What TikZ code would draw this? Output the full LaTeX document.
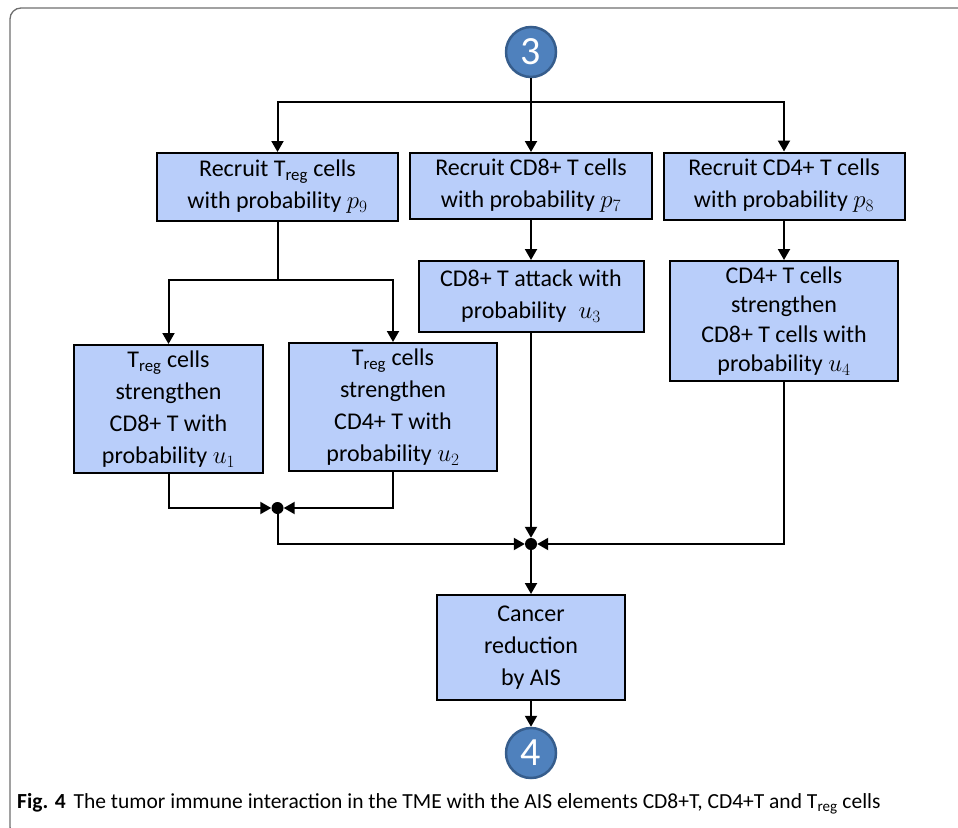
\documentclass[tikz,border=0pt]{standalone}
\usepackage{fontspec}
\setmainfont{Carlito}
\usepackage{xcolor}
\usepackage{tikz}
\usetikzlibrary{arrows.meta,positioning,calc}

\definecolor{boxblue}{RGB}{185,206,250}
\definecolor{stepblue}{RGB}{79,129,189}
\definecolor{stepedge}{RGB}{54,93,140}
\definecolor{framegray}{RGB}{110,110,110}

\begin{document}
\begin{tikzpicture}[
    x=1pt, y=-1pt,
    box/.style={rectangle, draw=black, line width=2pt, fill=boxblue, align=center, inner sep=0pt, font=\fontsize{24}{32}\selectfont},
    stepnum/.style={circle, draw=stepedge, line width=2.5pt, fill=stepblue, minimum size=50pt, inner sep=0pt, text=white, font=\fontsize{40}{40}\selectfont},
    joint/.style={circle, fill=black, minimum size=12pt, inner sep=0pt},
    arrow/.style={-{Triangle[length=11pt,width=12pt]}, line width=2pt},
    line/.style={line width=2pt}
]
\useasboundingbox (0,0) rectangle (958,827);
\clip (0,0) rectangle (958,827);

% Frame
\draw[framegray, line width=1.3pt, rounded corners=11pt] (10,8) rectangle (1000,838);

% Steps
\node[stepnum] (s3) at (531,52) {3};
\node[stepnum] (s4) at (531,753) {4};

% Boxes
\node[box, minimum width=241pt, minimum height=68pt] (rtreg) at (277.5,187) {Recruit T\textsubscript{reg} cells\\with probability $p_9$};
\node[box, minimum width=242pt, minimum height=66pt] (rcd8) at (531,186) {Recruit CD8+ T cells\\with probability $p_7$};
\node[box, minimum width=241pt, minimum height=67pt] (rcd4) at (784,186) {Recruit CD4+ T cells\\with probability $p_8$};

\node[box, minimum width=189pt, minimum height=128pt] (tcd8) at (168.5,409) {T\textsubscript{reg} cells\\strengthen\\CD8+ T with\\probability $u_1$};
\node[box, minimum width=208pt, minimum height=128pt] (tcd4) at (393,407) {T\textsubscript{reg} cells\\strengthen\\CD4+ T with\\probability $u_2$};
\node[box, minimum width=225pt, minimum height=71pt] (attack) at (531,296.5) {CD8+ T attack with\\probability\enspace$u_3$};
\node[box, minimum width=228pt, minimum height=120pt, font=\fontsize{24}{29.5}\selectfont] (boost) at (784,321) {CD4+ T cells\\strengthen\\CD8+ T cells with\\probability $u_4$};
\node[box, minimum width=188pt, minimum height=105pt] (cancer) at (531,647.5) {Cancer\\reduction\\by AIS};

% Joints
\coordinate (bus) at (531,102);
\coordinate (split) at (277.5,280);
\node[joint] (j1) at (277.5,508) {};
\node[joint] (j2) at (531,544) {};

% Connectors
\draw[line] (s3) -- (bus);
\draw[arrow] (bus) -| (rtreg);
\draw[arrow] (bus) -- (rcd8);
\draw[arrow] (bus) -| (rcd4);

\draw[line] (rtreg) -- (split);
\draw[arrow] (split) -| (tcd8);
\draw[arrow] (split) -| (tcd4);
\draw[arrow] (rcd8) -- (attack);
\draw[arrow] (rcd4) -- (boost);

\draw[arrow] (tcd8) |- (j1);
\draw[arrow] (tcd4) |- (j1);
\draw[arrow] (j1) |- (j2);
\draw[arrow] (attack) -- (j2);
\draw[arrow] (boost) |- (j2);
\draw[arrow] (j2) -- (cancer);
\draw[arrow] (cancer) -- (s4);

% Caption
\node[anchor=base west, inner sep=0pt, font=\fontsize{21.5}{26}\selectfont] (caption) at (17,808)
  {\textbf{Fig. 4}\hspace{8pt}The tumor immune interaction in the TME with the AIS elements CD8+T, CD4+T and T\textsubscript{reg} cells};

\end{tikzpicture}
\end{document}
